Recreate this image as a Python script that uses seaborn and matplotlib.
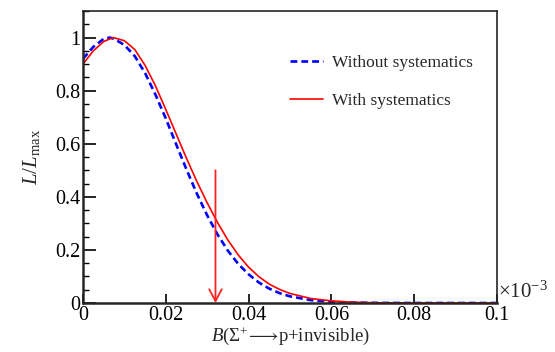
import numpy as np
import pandas as pd
import matplotlib
matplotlib.use("Agg")
import matplotlib.pyplot as plt
from matplotlib.ticker import MultipleLocator, NullLocator
import seaborn as sns

# values (x in units of 1e-3)
x_without = [0, 0.0025, 0.005, 0.0065, 0.0075, 0.01, 0.0125, 0.015, 0.0175, 0.02,
             0.0225, 0.025, 0.0275, 0.03, 0.0325, 0.035, 0.0375, 0.04, 0.0425, 0.045,
             0.0475, 0.05, 0.055, 0.06, 0.065, 0.07, 0.08, 0.09, 0.1]
l_without = [0.92, 0.965, 0.995, 1.0, 0.995, 0.972, 0.93, 0.866, 0.785, 0.695,
             0.598, 0.503, 0.412, 0.330, 0.258, 0.197, 0.147, 0.108, 0.077, 0.054,
             0.037, 0.025, 0.011, 0.004, 0.0015, 0.0005, 0.0, 0.0, 0.0]

x_with = [0, 0.0025, 0.005, 0.0073, 0.01, 0.0125, 0.015, 0.0175, 0.02, 0.0225,
          0.025, 0.0275, 0.03, 0.0325, 0.035, 0.0375, 0.04, 0.0425, 0.045, 0.0475,
          0.05, 0.055, 0.06, 0.065, 0.07, 0.08, 0.09, 0.1]
l_with = [0.90, 0.95, 0.985, 1.0, 0.988, 0.955, 0.895, 0.818, 0.729, 0.637,
          0.545, 0.458, 0.377, 0.303, 0.237, 0.181, 0.135, 0.099, 0.071, 0.051,
          0.036, 0.017, 0.008, 0.003, 0.001, 0.0, 0.0, 0.0]

upper_limit = 0.032      # upper limit marker
arrow_top = 0.5

labels = ["Without systematics", "With systematics"]

sns.set_style("ticks")
plt.rcParams['font.family'] = ['Liberation Serif', 'DejaVu Serif']
plt.rcParams['mathtext.fontset'] = 'custom'
plt.rcParams['mathtext.rm'] = 'Liberation Serif'
plt.rcParams['mathtext.it'] = 'Liberation Serif:italic'
plt.rcParams['mathtext.fallback'] = 'stix'

fig = plt.figure(figsize=(5.55, 3.52), dpi=100)
ax = fig.add_axes([83 / 555, 1 - 303 / 352, 414 / 555, 292 / 352])

df_without = pd.DataFrame({"x": x_without, "L": l_without})
df_with = pd.DataFrame({"x": x_with, "L": l_with})

sns.lineplot(data=df_without, x="x", y="L", ax=ax, color="#0000ff", lw=1.9,
             label=labels[0])
ax.lines[-1].set_dashes((2.6, 1.5))
sns.lineplot(data=df_with, x="x", y="L", ax=ax, color="#ff0000", lw=1.2,
             label=labels[1])

# arrow marking the upper limit
ax.annotate("", xy=(upper_limit, 0), xytext=(upper_limit, arrow_top),
            arrowprops=dict(arrowstyle="->,head_length=0.85,head_width=0.45",
                            color="#ff2020", lw=1.3, mutation_scale=10,
                            shrinkA=0, shrinkB=0))

ax.set_xlim(0, 0.1)
ax.set_ylim(0, 1.1)
ax.set_xticks([0, 0.02, 0.04, 0.06, 0.08, 0.1])
ax.set_xticklabels(["0", "0.02", "0.04", "0.06", "0.08", "0.1"])
ax.xaxis.set_minor_locator(NullLocator())
ax.set_yticks([0, 0.2, 0.4, 0.6, 0.8, 1.0])
ax.set_yticklabels(["0", "0.2", "0.4", "0.6", "0.8", "1"])
ax.yaxis.set_minor_locator(MultipleLocator(0.05))

ax.tick_params(axis="both", which="both", direction="in", top=False, right=False,
               labelsize=14.5, colors="black")
ax.tick_params(axis="y", which="major", length=9, width=1.2, pad=2)
ax.tick_params(axis="y", which="minor", length=4.5, width=1.0)
ax.tick_params(axis="x", which="major", length=6.5, width=1.2, pad=2)

for side in ["left", "bottom"]:
    ax.spines[side].set_linewidth(1.8)
for side in ["top", "right"]:
    ax.spines[side].set_linewidth(1.2)
    ax.spines[side].set_visible(True)

ax.set_xlabel(r"$B$(Σ$^{+}\!\longrightarrow\!$p+invisible)", fontsize=13.5, labelpad=0)
ax.set_ylabel(r"$L/L_{\mathrm{max}}$", fontsize=15, labelpad=9)
ax.text(1.003, 0.0, r"×10$^{-3}$", transform=ax.transAxes, fontsize=15,
        ha="left", va="bottom")

ax.legend(loc="upper left", bbox_to_anchor=(0.5, 0.85), frameon=False,
          fontsize=12.5, handlelength=1.9, handletextpad=0.5, labelspacing=1.25,
          borderpad=0, borderaxespad=0)

fig.savefig("out.png", dpi=100, facecolor="white")
plt.close(fig)
